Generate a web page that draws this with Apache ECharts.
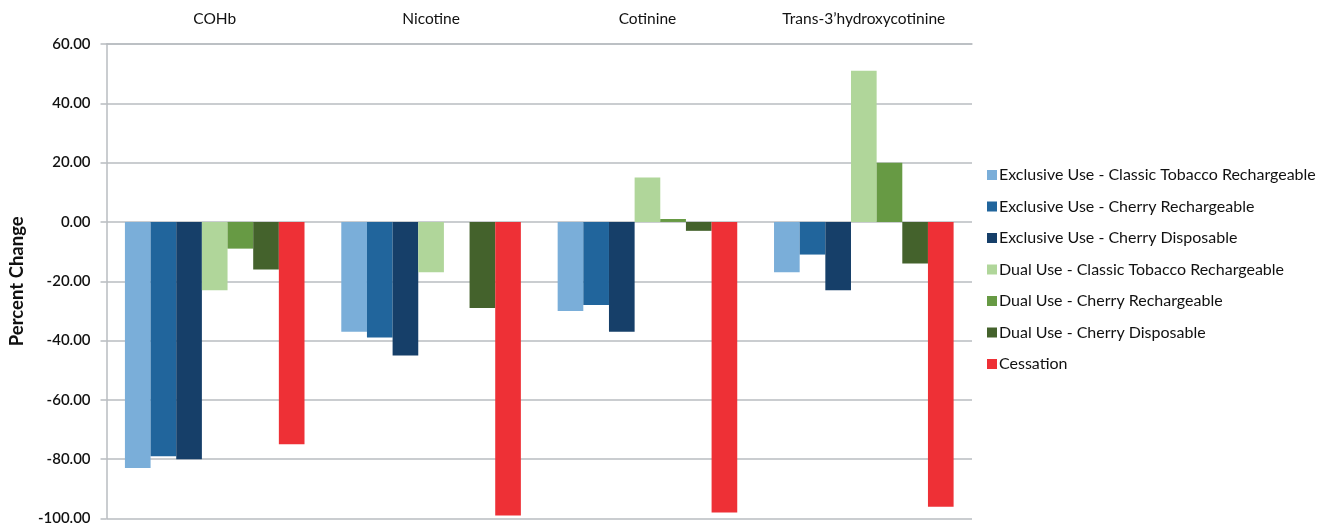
<!DOCTYPE html>
<html>
<head>
<meta charset="utf-8">
<script src="https://cdn.jsdelivr.net/npm/echarts@6/dist/echarts.min.js"></script>
<style>html,body{margin:0;padding:0;background:#fff;}#c{width:1329px;height:526px;}</style>
</head>
<body>
<div id="c"></div>
<script>
const categories = ["COHb", "Nicotine", "Cotinine", "Trans-3\u2019hydroxycotinine"];
const seriesNames = [
  "Exclusive Use - Classic Tobacco Rechargeable",
  "Exclusive Use - Cherry Rechargeable",
  "Exclusive Use - Cherry Disposable",
  "Dual Use - Classic Tobacco Rechargeable",
  "Dual Use - Cherry Rechargeable",
  "Dual Use - Cherry Disposable",
  "Cessation"
];
const exclClassicRech = [-83, -37, -30, -17];
const exclCherryRech = [-79, -39, -28, -11];
const exclCherryDisp = [-80, -45, -37, -23];
const dualClassicRech = [-23, -17, 15, 51];
const dualCherryRech = [-9, 0, 1, 20];
const dualCherryDisp = [-16, -29, -3, -14];
const cessation = [-75, -99, -98, -96];
const yTicks = [-100, -80, -60, -40, -20, 0, 20, 40, 60];

const seriesData = [exclClassicRech, exclCherryRech, exclCherryDisp, dualClassicRech, dualCherryRech, dualCherryDisp, cessation];
const colors = ["#7aaed9", "#21659c", "#163f69", "#b0d69a", "#679a44", "#44622c", "#ee3036"];
const FONT = "Lato, 'Open Sans', sans-serif";

const chart = echarts.init(document.getElementById('c'));
chart.setOption({
  animation: false,
  color: colors,
  textStyle: { fontFamily: FONT },
  grid: { left: 106, right: 357, top: 44, bottom: 7, containLabel: false },
  legend: {
    orient: 'vertical',
    left: 982,
    top: 162,
    itemWidth: 10,
    itemHeight: 10,
    itemGap: 15.5,
    icon: 'rect',
    textStyle: { fontFamily: FONT, fontSize: 16, color: '#111', padding: [0, 0, 0, -3] },
    data: seriesNames
  },
  xAxis: {
    type: 'category',
    position: 'top',
    data: categories,
    axisLine: { show: true, onZero: false, lineStyle: { color: '#b8bcc0', width: 1.5 } },
    axisTick: { show: false },
    axisLabel: { fontFamily: FONT, fontSize: 15.5, color: '#111', margin: 17 }
  },
  yAxis: {
    type: 'value',
    min: yTicks[0],
    max: yTicks[yTicks.length - 1],
    interval: 20,
    name: 'Percent Change',
    nameLocation: 'middle',
    nameRotate: 90,
    nameGap: 79,
    nameTextStyle: { fontFamily: FONT, fontSize: 18.5, fontWeight: 'bold', color: '#111' },
    axisLine: { show: true, lineStyle: { color: '#b8bcc0', width: 1.5 } },
    axisTick: { show: true, length: 6, lineStyle: { color: '#b8bcc0', width: 1.5 } },
    axisLabel: { fontFamily: FONT, fontSize: 15, fontWeight: 600, color: '#111', margin: 16,
      formatter: v => v.toFixed(2) },
    splitLine: { show: true, lineStyle: { color: '#b8bcc0', width: 1.5 } }
  },
  series: seriesNames.map((n, i) => ({
    name: n,
    type: 'bar',
    data: seriesData[i],
    barGap: '0%',
    barCategoryGap: '17%',
    itemStyle: { color: colors[i] }
  }))
});
</script>
</body>
</html>
